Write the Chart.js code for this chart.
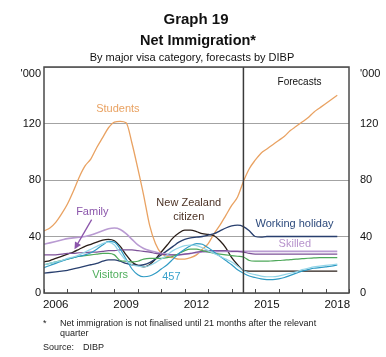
<!DOCTYPE html>
<html><head><meta charset="utf-8">
<script src="https://cdn.jsdelivr.net/npm/chart.js@4.4.1/dist/chart.umd.min.js"></script>
<style>
html,body{margin:0;padding:0;background:#fff;}
#wrap{position:relative;width:386px;height:357px;overflow:hidden;font-family:"Liberation Sans",Arial,sans-serif;color:#111;}
canvas{position:absolute;left:0;top:0;}
.t{position:absolute;left:0;width:386px;text-align:center;white-space:nowrap;line-height:1;}
.f{position:absolute;white-space:nowrap;font-size:9px;line-height:10px;color:#222;}
</style></head><body>
<div id="wrap">
<canvas id="c" width="386" height="357"></canvas>
<div class="t" style="top:10.5px;left:3px;font-size:15px;font-weight:bold;">Graph 19</div>
<div class="t" style="top:33px;left:5px;font-size:14.5px;font-weight:bold;">Net Immigration*</div>
<div class="t" style="top:51.5px;left:-1px;font-size:11px;">By major visa category, forecasts by DIBP</div>
<div class="f" style="left:43px;top:318px;">*</div>
<div class="f" style="left:60px;top:318px;">Net immigration is not finalised until 21 months after the relevant<br>quarter</div>
<div class="f" style="left:43px;top:342px;">Source:</div>
<div class="f" style="left:83px;top:342px;">DIBP</div>
</div>
<script>
const quarters = [
 2006,2006.25,2006.5,2006.75, 2007,2007.25,2007.5,2007.75, 2008,2008.25,2008.5,2008.75,
 2009,2009.25,2009.5,2009.75, 2010,2010.25,2010.5,2010.75, 2011,2011.25,2011.5,2011.75,
 2012,2012.25,2012.5,2012.75, 2013,2013.25,2013.5,2013.75, 2014,2014.25,2014.5,2014.75,
 2015,2015.25,2015.5,2015.75, 2016,2016.25,2016.5,2016.75, 2017,2017.25,2017.5,2017.75,
 2018,2018.25,2018.5];

const students = [44,46,50,56, 63,72,82,90, 95,103,110,117, 121,121.5,120.5,106, 88,69,48,35,
 28,26,25,24, 24,25,27,31, 35,42,48,55, 62,68,79,88, 94,99,102,105, 108,111,115,118, 121,124,128,131, 134,137,140];
const skilled = [34.5,35.5,36.5,37.5, 38.5,39,39.5,40, 41,42.5,44,45.5, 46,45,42,38, 34,31.5,30,29,
 28,27.5,27,27, 27.5,28,28.5,29, 29,29,29.5,29.5, 29.5,29.5,29.5,29.5, 29.5,29.5,29.5,29.5,
 29.5,29.5,29.5,29.5, 29.5,29.5,29.5,29.5, 29.5,29.5,29.5];
const family = [27,27,27,27.5, 28,28,28.5,28.5, 29,29,29.5,30, 30,30.5,30.5,30.5, 30,29.5,29,28,
 27.5,27,27,27, 27.5,28,29,29.5, 30,30,30,30, 29.5,29.5,29,28, 27.5,27.5,27.5,27.5,
 27.5,27.5,27.5,27.5, 27.5,27.5,27.5,27.5, 27.5,27.5,27.5];
const nzCitizen = [22,23,24.5,26, 27.5,29,31,33, 34.5,36,37.5,38, 37,33,27,22, 19.5,18.5,20,24,
 29,34,39,42.5, 44.5,44.5,43.5,42, 41.5,40.5,37,32, 25,20,16,15.5, 15.5,15.5,15.5,15.5,
 15.5,15.5,15.5,15.5, 15.5,15.5,15.5,15.5, 15.5,15.5,15.5];
const workingHoliday = [14,14.5,15,15.5, 16,17,18,19, 20,21,22.5,23.5, 23.5,22.5,21,20, 19.5,20,21.5,24,
 27,30,33,36, 38,39,39.5,40, 41,42,44,46, 47.5,48,47,44, 40,39.5,40,40,
 40,40,40,40, 40,40,40,40, 40,40,40];
const visitors = [20,21,22,23, 24,25,26,26.5, 27,27.5,28,28, 27,23,22.5,22, 22.5,24,24.5,24.5,
 24.5,25,26,28, 30,31,31,30, 29,28,27.5,27, 26.5,26,25.5,23, 22.5,22.5,22.5,22.8,
 23,23.3,23.6,24, 24.3,24.6,24.8,25, 25,25,25];
const visa457 = [18,19.5,21,22.5, 24,25,26,27, 28.5,31,34,36.5, 36,31,24,17, 13,11.5,12,14,
 17,20,24,28, 31,33.5,35,34.5, 32,29,26,23, 20,16.5,14,12, 11,10,9.5,9.5,
 10,11,12.5,14, 15.5,16.5,17.5,18, 18.5,19,19.8];
const other = [20,21,22,23, 24.5,25.5,27,29, 31,33,35,36, 34,28,23,20, 19,18.5,19.5,21.5,
 24,27,30,32, 33.5,34,33.5,32, 30,28,26,24, 22,19,16,14, 13,12,11.5,11.5,
 12,13,14,15, 16.5,17.5,18.5,19, 19.5,20,20.5];

const yearTicks = [2006,2007,2008,2009,2010,2011,2012,2013,2014,2015,2016,2017,2018,2019];
const yearLabels = [2006,2009,2012,2015,2018];
const yTicks = [0,40,80,120,160];
const forecastStart = 2014.5;

const series = [
 {name:'Other', values:other, color:'#93d5e8', width:1.2},
 {name:'457', values:visa457, color:'#2f9bc4', width:1.2},
 {name:'Visitors', values:visitors, color:'#4ea85a', width:1.2},
 {name:'Family', values:family, color:'#7d5198', width:1.2},
 {name:'Skilled', values:skilled, color:'#b99bd2', width:1.6},
 {name:'Working holiday', values:workingHoliday, color:'#283f6e', width:1.3},
 {name:'New Zealand citizen', values:nzCitizen, color:'#2a1e18', width:1.3},
 {name:'Students', values:students, color:'#e9a262', width:1.3}
];

const notes = [
 {text:'Students', x:2009.15, y:130.5, color:'#e9a262'},
 {text:'Family', x:2008.06, y:57.4, color:'#8b55ab'},
 {text:'New Zealand', x:2012.17, y:63.4, color:'#4d3326'},
 {text:'citizen', x:2012.17, y:53.9, color:'#4d3326'},
 {text:'Working holiday', x:2016.68, y:48.9, color:'#2d4a7c'},
 {text:'Skilled', x:2016.69, y:34.8, color:'#b793cc'},
 {text:'Visitors', x:2008.82, y:12.6, color:'#4fae5c'},
 {text:'457', x:2011.43, y:11, color:'#3aa2cc'},
 {text:'Forecasts', x:2016.89, y:149, color:'#111', size:10}
];
const arrow = {from:[2008.03, 51.9], to:[2007.3, 31], color:'#8b55ab'};

const decor = {
 id:'decor',
 afterDatasetsDraw(chart){
  const {ctx, chartArea:a, scales:{x,y}} = chart;
  ctx.save();
  const fx = x.getPixelForValue(forecastStart);
  ctx.strokeStyle='#3a3a3a'; ctx.lineWidth=1.5;
  ctx.beginPath(); ctx.moveTo(fx,a.top); ctx.lineTo(fx,a.bottom); ctx.stroke();
  ctx.strokeStyle='#4a4a4a'; ctx.lineWidth=1.5;
  ctx.strokeRect(a.left,a.top,a.right-a.left,a.bottom-a.top);
  ctx.lineWidth=1;
  x.ticks.forEach(t=>{const px=Math.round(x.getPixelForValue(t.value))+0.5; ctx.beginPath(); ctx.moveTo(px,a.bottom); ctx.lineTo(px,a.bottom-4); ctx.stroke();});
  ctx.textAlign='center'; ctx.textBaseline='middle';
  notes.forEach(n=>{ctx.fillStyle=n.color; ctx.font=(n.size||11)+'px "Liberation Sans", Arial, sans-serif'; ctx.fillText(n.text, x.getPixelForValue(n.x), y.getPixelForValue(n.y));});
  const x1=x.getPixelForValue(arrow.from[0]), y1=y.getPixelForValue(arrow.from[1]);
  const x2=x.getPixelForValue(arrow.to[0]), y2=y.getPixelForValue(arrow.to[1]);
  const ang=Math.atan2(y2-y1,x2-x1), hl=7, hw=3.5;
  ctx.strokeStyle=arrow.color; ctx.fillStyle=arrow.color; ctx.lineWidth=1.3;
  ctx.beginPath(); ctx.moveTo(x1,y1); ctx.lineTo(x2-Math.cos(ang)*hl*0.8,y2-Math.sin(ang)*hl*0.8); ctx.stroke();
  ctx.beginPath(); ctx.moveTo(x2,y2);
  ctx.lineTo(x2-Math.cos(ang)*hl-Math.sin(ang)*hw, y2-Math.sin(ang)*hl+Math.cos(ang)*hw);
  ctx.lineTo(x2-Math.cos(ang)*hl+Math.sin(ang)*hw, y2-Math.sin(ang)*hl-Math.cos(ang)*hw);
  ctx.closePath(); ctx.fill();
  ctx.restore();
 }
};

const font = {family:'"Liberation Sans", Arial, sans-serif', size:11};
const yCommon = {
 min:0, max:160,
 afterBuildTicks:s=>{s.ticks=yTicks.map(v=>({value:v}));},
 ticks:{padding:3, color:'#111', font:font, callback:v=> v===160 ? ['',"'000"] : String(v)},
 border:{display:false}
};

new Chart(document.getElementById('c'), {
 type:'line',
 data:{datasets: series.map(s=>({label:s.name, data:quarters.map((q,i)=>({x:q,y:s.values[i]})),
   borderColor:s.color, borderWidth:s.width, pointRadius:0, tension:0.4,
   cubicInterpolationMode:'monotone', fill:false}))},
 options:{
  responsive:false, animation:false, devicePixelRatio:1,
  layout:{padding:{top:67,left:0,right:0,bottom:0}},
  plugins:{legend:{display:false}, tooltip:{enabled:false}},
  scales:{
   x:{type:'linear', min:2006, max:2019,
      afterBuildTicks:s=>{s.ticks=yearTicks.map(v=>({value:v}));},
      ticks:{autoSkip:false, maxRotation:0, labelOffset:11.7, padding:5, color:'#111',
        font:{family:font.family,size:11.5}, callback:v=> yearLabels.includes(v)?String(v):''},
      grid:{drawOnChartArea:false, drawTicks:false}, border:{display:false},
      afterFit:s=>{s.height=64;}},
   y:Object.assign({}, yCommon, {position:'left',
      grid:{color:'#a3a3a3', drawTicks:false, lineWidth:1},
      afterFit:s=>{s.width=44;}}),
   y2:Object.assign({}, yCommon, {position:'right',
      grid:{display:false}, afterFit:s=>{s.width=37;}})
  }
 },
 plugins:[decor]
});
</script>
</body></html>
